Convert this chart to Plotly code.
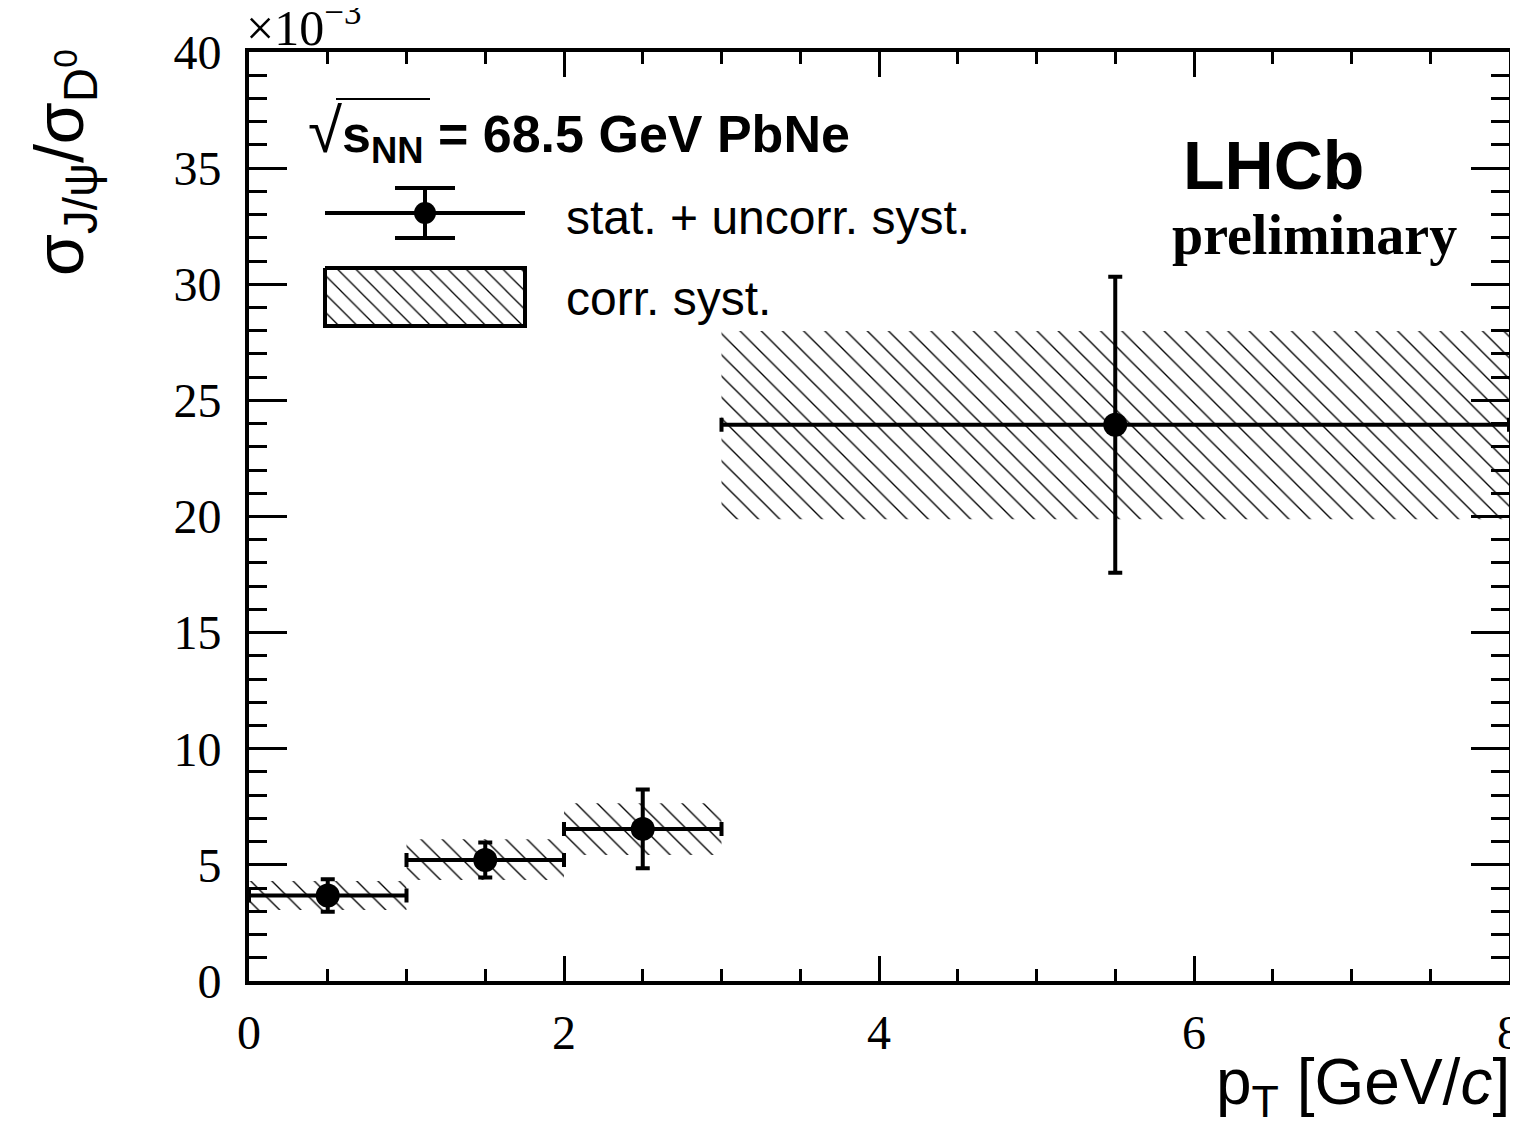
import plotly.graph_objects as go

# ---- data ----
bin_lo = [0.0, 1.0, 2.0, 3.0]
bin_hi = [1.0, 2.0, 3.0, 8.0]
ratio = [3.68, 5.21, 6.55, 23.95]            # x1e-3
err_stat = [0.70, 0.75, 1.70, 6.37]          # stat. + uncorr. syst.
corr_lo = [3.06, 4.35, 5.43, 19.88]          # corr. syst. band low
corr_hi = [4.31, 6.10, 7.65, 27.99]          # corr. syst. band high
x_ticks = [0, 2, 4, 6, 8]
y_ticks = [0, 5, 10, 15, 20, 25, 30, 35, 40]

centers = [(a + b) / 2 for a, b in zip(bin_lo, bin_hi)]
half_w = [(b - a) / 2 for a, b in zip(bin_lo, bin_hi)]
widths = [b - a for a, b in zip(bin_lo, bin_hi)]

# geometry: page body has an 8px margin, so the figure is drawn 8px in
OFF = 8
W, H = 1510, 1125
PL, PR, PT, PB = 249, 1509, 52, 981          # plot area on screen
L, T = PL - OFF, PT - OFF
R = W - (PR - OFF)
B = H - (PB - OFF)
PW, PH = PR - PL, PB - PT


def px(x):
    return (x - PL) / PW


def py(y):
    return (PB - y) / PH


SANS = "Liberation Sans"
SERIF = "Liberation Serif"

fig = go.Figure()

# correlated systematic bands (hatched)
fig.add_trace(go.Bar(
    x=centers, y=[h - l for h, l in zip(corr_hi, corr_lo)], base=corr_lo, width=widths,
    marker=dict(color="rgba(0,0,0,0)", line=dict(width=0),
                pattern=dict(shape="\\", fgcolor="black", bgcolor="rgba(0,0,0,0)",
                             size=15, solidity=0.09)),
    hoverinfo="skip", showlegend=False))

# data points with stat errors
fig.add_trace(go.Scatter(
    x=centers, y=ratio, mode="markers",
    marker=dict(symbol="circle", size=24, color="black"),
    error_x=dict(type="data", array=half_w, symmetric=True, color="black", thickness=4, width=7),
    error_y=dict(type="data", array=err_stat, symmetric=True, color="black", thickness=4, width=7),
    showlegend=False, cliponaxis=False))

# ---- custom legend samples on a pixel-coordinate overlay axis ----
fig.add_trace(go.Scatter(
    x=[425], y=[213], mode="markers", xaxis="x2", yaxis="y2",
    marker=dict(size=22, color="black"),
    error_x=dict(type="constant", value=100, color="black", thickness=4, width=0),
    error_y=dict(type="constant", value=25, color="black", thickness=4, width=30),
    showlegend=False, hoverinfo="skip"))
fig.add_trace(go.Scatter(
    x=[325, 525, 525, 325, 325], y=[268, 268, 326, 326, 268], mode="lines",
    xaxis="x2", yaxis="y2", fill="toself", fillcolor="rgba(0,0,0,0)",
    fillpattern=dict(shape="\\", fgcolor="black", bgcolor="rgba(0,0,0,0)", size=13, solidity=0.1),
    line=dict(color="black", width=4), showlegend=False, hoverinfo="skip"))

axis_common = dict(showline=True, linewidth=4, linecolor="black", mirror="allticks",
                   ticks="inside", tickwidth=3, tickcolor="black", showgrid=False,
                   zeroline=False, automargin=False, ticklabeloverflow="allow")

fig.update_layout(
    template="none",
    width=W, height=H, margin=dict(l=L, r=R, t=T, b=B, autoexpand=False),
    paper_bgcolor="white", plot_bgcolor="white",
    barmode="overlay", showlegend=False,
    xaxis=dict(range=[0, 8], tickvals=x_ticks, ticktext=[str(v) for v in x_ticks], ticklen=25,
               minor=dict(dtick=0.5, ticklen=12, tickwidth=3, ticks="inside", tickcolor="black"),
               tickfont=dict(family=SERIF, size=48, color="black"), ticklabelstandoff=6,
               **axis_common),
    yaxis=dict(range=[0, 40], tickvals=y_ticks, ticktext=[str(v) for v in y_ticks], ticklen=38,
               minor=dict(dtick=1, ticklen=18, tickwidth=3, ticks="inside", tickcolor="black"),
               tickfont=dict(family=SERIF, size=48, color="black"), ticklabelstandoff=14,
               **axis_common),
    xaxis2=dict(overlaying="x", range=[PL, PR], visible=False, fixedrange=True),
    yaxis2=dict(overlaying="y", range=[PB, PT], visible=False, fixedrange=True),
)

ann = []
ann.append(dict(text="×10<sup>−3</sup>", x=px(244), y=py(58), xref="paper", yref="paper",
                xanchor="left", yanchor="bottom", showarrow=False,
                font=dict(family=SERIF, size=50, color="black")))
ann.append(dict(text="σ<sub>J/ψ</sub>/σ<sub>D<sup>0</sup></sub>", x=px(64), y=py(163),
                xref="paper", yref="paper", xanchor="center", yanchor="middle",
                textangle=-90, showarrow=False, font=dict(family=SANS, size=68, color="black")))
ann.append(dict(text="p<sub>T</sub> [GeV/<i>c</i>]", x=px(1512), y=py(1086),
                xref="paper", yref="paper", xanchor="right", yanchor="middle",
                showarrow=False, font=dict(family=SANS, size=64, color="black")))
ann.append(dict(text="<span style='font-size:62px'>√</span><b>s<sub>NN</sub> = 68.5 GeV PbNe</b>",
                x=px(306), y=py(133),
                xref="paper", yref="paper", xanchor="left", yanchor="middle",
                showarrow=False, font=dict(family=SANS, size=52, color="black")))
ann.append(dict(text="stat. + uncorr. syst.", x=px(564), y=py(217),
                xref="paper", yref="paper", xanchor="left", yanchor="middle",
                showarrow=False, font=dict(family=SANS, size=48, color="black")))
ann.append(dict(text="corr. syst.", x=px(564), y=py(298),
                xref="paper", yref="paper", xanchor="left", yanchor="middle",
                showarrow=False, font=dict(family=SANS, size=48, color="black")))
ann.append(dict(text="<b>LHCb</b>", x=px(1273), y=py(165),
                xref="paper", yref="paper", xanchor="center", yanchor="middle",
                showarrow=False, font=dict(family=SANS, size=68, color="black")))
ann.append(dict(text="<b>preliminary</b>", x=px(1314), y=py(235),
                xref="paper", yref="paper", xanchor="center", yanchor="middle",
                showarrow=False, font=dict(family=SERIF, size=56, color="black")))
fig.update_layout(annotations=ann)

# overline of the square-root sign
fig.add_shape(type="line", xref="paper", yref="paper", x0=px(336), x1=px(430),
              y0=py(99), y1=py(99), line=dict(color="black", width=2))

fig.write_html("out.html")
